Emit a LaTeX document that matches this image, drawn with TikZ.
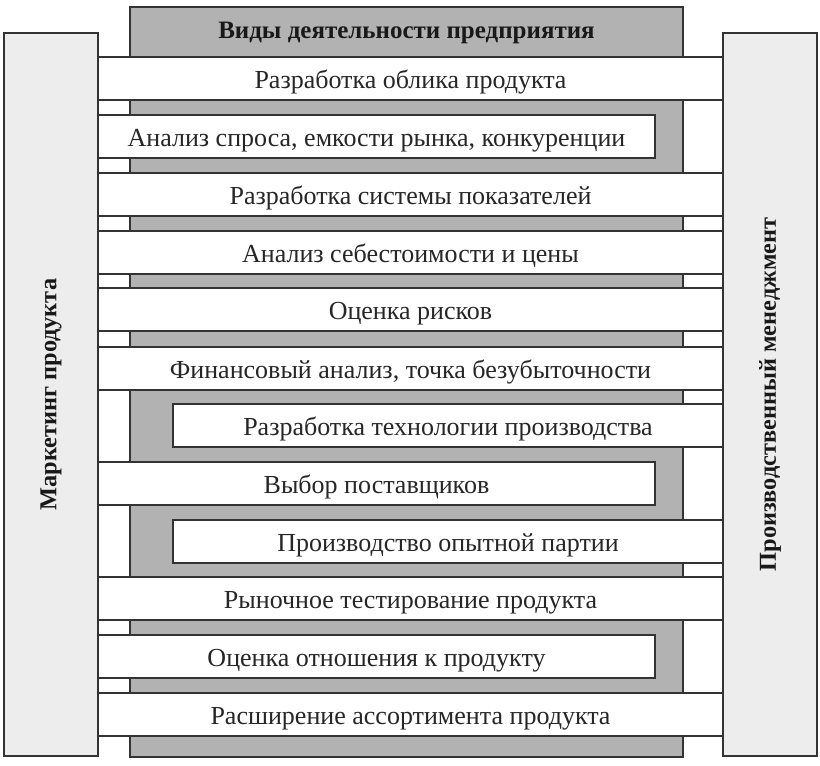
\documentclass[tikz,border=0pt]{standalone}
\usepackage{fontspec}
\setmainfont{Liberation Serif}
\begin{document}
\begin{tikzpicture}[x=1pt,y=-1pt,
  frame/.style={draw=black!80, line width=1.3pt},
  bar/.style={frame, fill=white, minimum height=43pt, inner sep=0pt, font=\fontsize{26}{26}\selectfont, text=black!85, text height=19pt, text depth=0pt},
  fullbar/.style={bar, minimum width=625pt},
  leftbar/.style={bar, minimum width=557pt},
  rightbar/.style={bar, minimum width=550pt},
  side/.style={frame, fill=black!7, minimum width=94pt, minimum height=723pt, inner sep=0pt},
  sidetext/.style={font=\bfseries\fontsize{24.3}{24.3}\selectfont, rotate=90, text=black!90}]
\useasboundingbox (0,0) rectangle (820,766);
% central gray column
\node[frame, fill=black!30, minimum width=553pt, minimum height=750pt, inner sep=0pt] (col) at (406.5,382) {};
\node[font=\bfseries\fontsize{25}{25}\selectfont, text=black!90] (title) at (406.5,33) {Виды деятельности предприятия};
% side boxes
\node[side] (mk) at (51,394.5) {};
\node[sidetext] (mkt) at (mk.center) {Маркетинг продукта};
\node[side] (pm) at (770,394.5) {};
\node[sidetext] (pmt) at (pm.center) {Производственный менеджмент};
% bars
\node[fullbar]  (b1)  at (410.5,78.5)  {Разработка облика продукта};
\node[leftbar]  (b2)  at (376.5,136.5) {Анализ спроса, емкости рынка, конкуренции};
\node[fullbar]  (b3)  at (410.5,194.5) {Разработка системы показателей};
\node[fullbar]  (b4)  at (410.5,252.5) {Анализ себестоимости и цены};
\node[fullbar]  (b5)  at (410.5,309.5) {Оценка рисков};
\node[fullbar]  (b6)  at (410.5,368.5) {Финансовый анализ, точка безубыточности};
\node[rightbar] (b7)  at (448,425.5)   {Разработка технологии производства};
\node[leftbar]  (b8)  at (376.5,483.5) {Выбор поставщиков};
\node[rightbar] (b9)  at (448,541.5)   {Производство опытной партии};
\node[fullbar]  (b10) at (410.5,598.5) {Рыночное тестирование продукта};
\node[leftbar]  (b11) at (376.5,656.5) {Оценка отношения к продукту};
\node[fullbar]  (b12) at (410.5,714.5) {Расширение ассортимента продукта};
\end{tikzpicture}
\end{document}
